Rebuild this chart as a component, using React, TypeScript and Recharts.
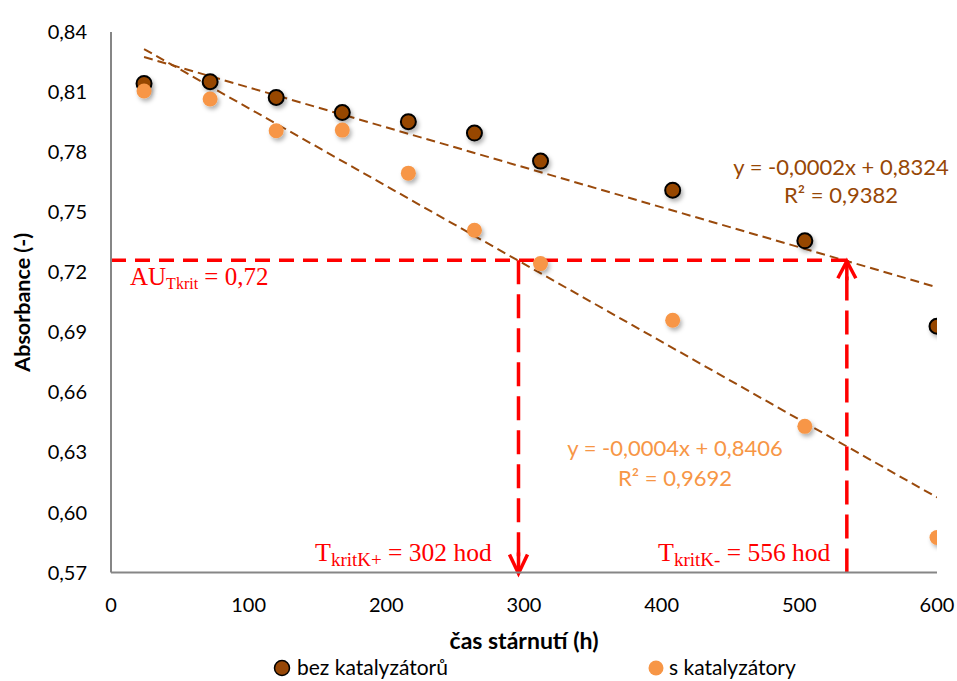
import { ComposedChart, Line, ReferenceLine, Scatter, XAxis, YAxis } from "recharts";

// hodiny stárnutí a naměřené absorbance
const hours = [24, 72, 120, 168, 216, 264, 312, 408, 504, 600];
const bezKatalyzatoru = [0.8143, 0.8152, 0.8073, 0.7998, 0.7952, 0.7895, 0.7755, 0.761, 0.7357, 0.693];
const sKatalyzatory = [0.8105, 0.8065, 0.7907, 0.791, 0.7695, 0.741, 0.7243, 0.696, 0.643, 0.5875];

// konce spojnic trendu
const trendBezX = [24, 600];
const trendBezY = [0.8275, 0.7125];
const trendSX = [24, 600];
const trendSY = [0.8315, 0.6075];

const xTicks = [0, 100, 200, 300, 400, 500, 600];
const yTicks = [0.57, 0.6, 0.63, 0.66, 0.69, 0.72, 0.75, 0.78, 0.81, 0.84];

const auKrit = 0.726;
const tKritPlus = 296;
const tKritMinus = 534.5;

const bezData = hours.map((x, i) => ({ x, y: bezKatalyzatoru[i] }));
const sData = hours.map((x, i) => ({ x, y: sKatalyzatory[i] }));
const trendBez = trendBezX.map((x, i) => ({ x, y: trendBezY[i] }));
const trendS = trendSX.map((x, i) => ({ x, y: trendSY[i] }));

const DARK = "#974706";
const ORANGE = "#F79646";
const TREND = "#9A4A0C";
const RED = "#FF0000";
const AXIS = "#868686";
const sans = "Lato, 'Open Sans', sans-serif";
const serif = "'Liberation Serif', 'DejaVu Serif', serif";

const fmt = (v: number) => v.toFixed(2).replace(".", ",");

const darkDot = (p: any) => (
  <circle cx={p.cx} cy={p.cy} r={7.5} fill={DARK} stroke="#000" strokeWidth={2} filter="url(#shadow)" />
);
const orangeDot = (p: any) => (
  <circle cx={p.cx} cy={p.cy} r={7.5} fill={ORANGE} filter="url(#shadow)" />
);

const arrowLine = (up: boolean, dash: string) => (p: any) => {
  const { x1, y1, x2, y2 } = p;
  const tipX = x2;
  const tipY = up ? Math.min(y1, y2) : Math.max(y1, y2);
  const s = up ? 1 : -1;
  return (
    <g>
      <line x1={x1} y1={y1} x2={x2} y2={y2} stroke={RED} strokeWidth={3.5} strokeDasharray={dash} />
      <polyline
        points={`${tipX - 9},${tipY + s * 18} ${tipX},${tipY + 1} ${tipX + 9},${tipY + s * 18}`}
        fill="none"
        stroke={RED}
        strokeWidth={3.5}
      />
      <line x1={tipX} y1={tipY} x2={tipX} y2={tipY + s * 20} stroke={RED} strokeWidth={3.5} />
    </g>
  );
};

const hLine = (p: any) => (
  <line x1={p.x1} y1={p.y1} x2={p.x2} y2={p.y2} stroke={RED} strokeWidth={3.5} strokeDasharray="15 9" />
);

export default function App() {
  return (
    <div style={{ position: "absolute", left: 0, top: 0, width: 957, height: 681, background: "#fff" }}>
      <svg width={0} height={0} style={{ position: "absolute" }}>
        <defs>
          <filter id="shadow" x="-50%" y="-50%" width="200%" height="200%">
            <feDropShadow dx={2} dy={3} stdDeviation={2} floodColor="#000" floodOpacity={0.3} />
          </filter>
        </defs>
      </svg>
      <ComposedChart width={957} height={681} margin={{ top: 32, right: 20, bottom: 28.5, left: 0 }}>
        <XAxis
          type="number"
          dataKey="x"
          domain={[0, 600]}
          ticks={xTicks}
          allowDataOverflow
          height={80}
          axisLine={{ stroke: AXIS, strokeWidth: 2 }}
          tickLine={false}
          tickSize={0}
          tickMargin={25}
          tick={{ fill: "#000", fontSize: 20, fontFamily: sans }}
          label={{
            value: "čas stárnutí (h)",
            position: "insideBottom",
            offset: 4,
            style: { fill: "#000", fontSize: 23, fontWeight: 700, fontFamily: sans }
          }}
        />
        <YAxis
          type="number"
          dataKey="y"
          domain={[0.57, 0.84]}
          ticks={yTicks}
          allowDataOverflow
          width={111}
          axisLine={{ stroke: AXIS, strokeWidth: 2 }}
          tickLine={false}
          tickSize={0}
          tickMargin={24}
          tickFormatter={fmt}
          tick={{ fill: "#000", fontSize: 20, fontFamily: sans }}
          label={{
            value: "Absorbance (-)",
            angle: -90,
            position: "insideLeft",
            offset: 22,
            style: { fill: "#000", fontSize: 21.5, fontWeight: 700, fontFamily: sans, textAnchor: "middle" }
          }}
        />
        <Scatter name="bez katalyzátorů" data={bezData} shape={darkDot} isAnimationActive={false} />
        <Scatter name="s katalyzátory" data={sData} shape={orangeDot} isAnimationActive={false} />
        <Line data={trendBez} dataKey="y" stroke={TREND} strokeWidth={2} strokeDasharray="9 5" dot={false} activeDot={false} isAnimationActive={false} />
        <Line data={trendS} dataKey="y" stroke={TREND} strokeWidth={2} strokeDasharray="9 5" dot={false} activeDot={false} isAnimationActive={false} />
        <ReferenceLine segment={[{ x: 0, y: auKrit }, { x: tKritMinus, y: auKrit }]} shape={hLine} />
        <ReferenceLine segment={[{ x: tKritPlus, y: auKrit }, { x: tKritPlus, y: 0.57 }]} shape={arrowLine(false, "24 10")} />
        <ReferenceLine segment={[{ x: tKritMinus, y: 0.57 }, { x: tKritMinus, y: auKrit }]} shape={arrowLine(true, "24 10")} />
      </ComposedChart>

      <svg width={957} height={681} style={{ position: "absolute", left: 0, top: 0, pointerEvents: "none" }}>
        <g fontFamily={sans} fontSize={22} textAnchor="middle">
          <text x={841} y={175} fill={DARK}>y = -0,0002x + 0,8324</text>
          <text x={841} y={203} fill={DARK}>R² = 0,9382</text>
          <text x={675} y={456} fill={ORANGE}>y = -0,0004x + 0,8406</text>
          <text x={675} y={486} fill={ORANGE}>R² = 0,9692</text>
        </g>
        <g fontFamily={serif} fill={RED}>
          <text x={130} y={285} fontSize={25}>
            AU<tspan fontSize={16} dy={4}>Tkrit</tspan>
            <tspan dy={-4}> = 0,72</tspan>
          </text>
          <text x={315} y={561} fontSize={26}>
            T<tspan fontSize={19} dy={5}>kritK+</tspan>
            <tspan dy={-5} fontSize={25.5}> = 302 hod</tspan>
          </text>
          <text x={658} y={561} fontSize={26}>
            T<tspan fontSize={19} dy={5}>kritK-</tspan>
            <tspan dy={-5} fontSize={25.5}> = 556 hod</tspan>
          </text>
        </g>
        <g fontFamily={sans} fontSize={21} fill="#000">
          <circle cx={282} cy={668} r={7.5} fill={DARK} stroke="#000" strokeWidth={1.5} />
          <text x={297} y={675}>bez katalyzátorů</text>
          <circle cx={656} cy={668} r={7.5} fill={ORANGE} />
          <text x={669} y={675}>s katalyzátory</text>
        </g>
      </svg>
    </div>
  );
}
